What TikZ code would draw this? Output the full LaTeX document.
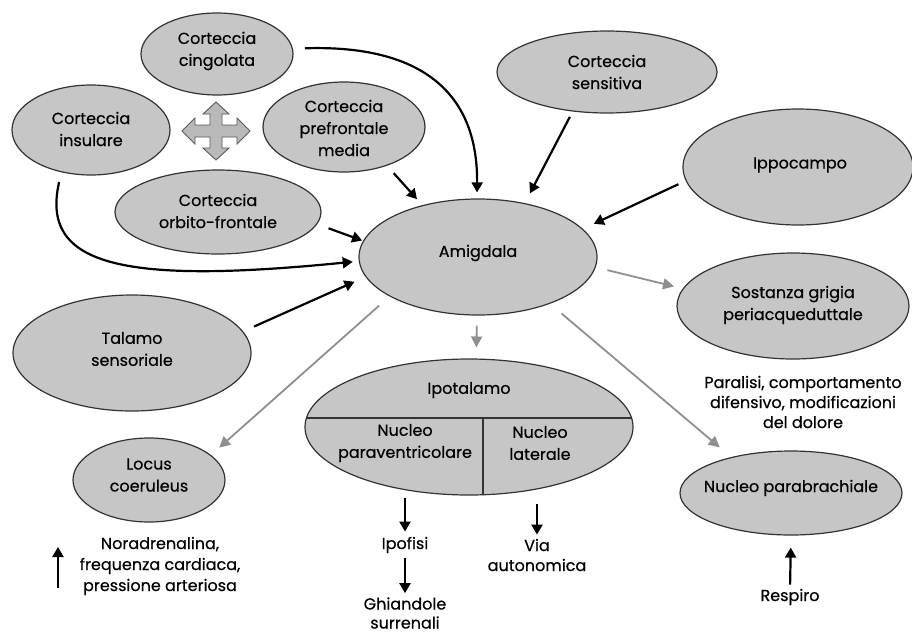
\documentclass[tikz,border=0pt]{standalone}
\usepackage{fontspec}
\setmainfont{Poppins}[FakeBold=0.5]
\usetikzlibrary{shapes.geometric,arrows.meta}
\definecolor{ellfill}{HTML}{C6C6C6}
\definecolor{elldraw}{HTML}{333333}
\definecolor{garrow}{HTML}{8F8F8F}
\definecolor{crossfill}{HTML}{B9B9B9}
\definecolor{crossdraw}{HTML}{5A5A5A}
\begin{document}
\begin{tikzpicture}[x=1pt,y=-1pt,
  ell/.style={ellipse,draw=elldraw,line width=1.2pt,fill=ellfill,inner sep=0pt},
  lbl/.style={align=center,font=\fontsize{16}{22}\selectfont,inner sep=0pt,text=black},
  barr/.style={line width=2.2pt,black,-{Triangle[length=10pt,width=11pt]}},
  garr/.style={line width=1.8pt,garrow,-{Triangle[length=11pt,width=11pt]}}]
\useasboundingbox (0,0) rectangle (912,635);
\fill[white] (0,0) rectangle (912,635);

% ellipses
\node[ell,minimum width=152pt,minimum height=82pt] (cing) at (217,54) {};
\node[ell,minimum width=158pt,minimum height=90pt] (insu) at (91,130) {};
\node[ell,minimum width=162pt,minimum height=90pt] (pref) at (344,127) {};
\node[ell,minimum width=206pt,minimum height=84pt] (orbi) at (218,212) {};
\node[ell,minimum width=220pt,minimum height=82pt] (sens) at (607,72) {};
\node[ell,minimum width=230pt,minimum height=116pt] (ippo) at (798,167) {};
\node[ell,minimum width=238pt,minimum height=116pt] (amig) at (478,257) {};
\node[ell,minimum width=232pt,minimum height=106pt] (sost) at (793,306) {};
\node[ell,minimum width=238pt,minimum height=116pt] (tala) at (132,353) {};
\node[ell,minimum width=152pt,minimum height=84pt] (locu) at (149,480) {};
\node[ell,minimum width=222pt,minimum height=84pt] (para) at (791,493) {};
\node[ell,minimum width=328pt,minimum height=136pt] (ipot) at (469,427) {};
\begin{scope}
  \clip (469,427) ellipse [x radius=164pt, y radius=68pt];
  \draw[elldraw,line width=1.2pt] (300,418) -- (640,418);
  \draw[elldraw,line width=1.2pt] (483,418) -- (483,500);
\end{scope}

% labels
\node[lbl] (cingt) at (217,51) {Corteccia\\cingolata};
\node[lbl] (insut) at (91,129) {Corteccia\\insulare};
\node[lbl] (preft) at (344,128) {Corteccia\\prefrontale\\media};
\node[lbl] (orbit) at (218,211) {Corteccia\\orbito-frontale};
\node[lbl] (senst) at (607,72) {Corteccia\\sensitiva};
\node[lbl] (ippot) at (800,165) {Ippocampo};
\node[lbl] (amigt) at (478,253) {Amigdala};
\node[lbl] (sostt) at (793,305) {Sostanza grigia\\periacqueduttale};
\node[lbl,font=\fontsize{16}{20}\selectfont] (paral) at (803,402) {Paralisi, comportamento\\difensivo, modificazioni\\del dolore};
\node[lbl] (talat) at (132,349) {Talamo\\sensoriale};
\node[lbl] (locut) at (149,475) {Locus\\coeruleus};
\node[lbl] (parat) at (791,488) {Nucleo parabrachiale};
\node[lbl] (ipott) at (469,390) {Ipotalamo};
\node[lbl] (pvn) at (405,443) {Nucleo\\paraventricolare};
\node[lbl] (lat) at (540,443) {Nucleo\\laterale};
\node[lbl] (ipof) at (405,545) {Ipofisi};
\node[lbl,font=\fontsize{16}{19}\selectfont] (ghia) at (405,613) {Ghiandole\\surrenali};
\node[lbl,font=\fontsize{16}{20}\selectfont] (viaa) at (537,555) {Via\\autonomica};
\node[lbl,font=\fontsize{16}{21}\selectfont] (nora) at (160,566) {Noradrenalina,\\frequenza cardiaca,\\pressione arteriosa};
\node[lbl] (resp) at (790,597) {Respiro};

% gray four-way arrow
\filldraw[fill=crossfill,draw=crossdraw,line width=0.9pt,line join=miter]
  (216,102) -- (229,114) -- (222,114) -- (222,125) -- (237,125) -- (237,118) -- (250,131)
  -- (237,144) -- (237,137) -- (222,137) -- (222,148) -- (229,148) -- (216,160)
  -- (203,148) -- (210,148) -- (210,137) -- (195,137) -- (195,144) -- (182,131)
  -- (195,118) -- (195,125) -- (210,125) -- (210,114) -- (203,114) -- cycle;

% black input arrows
\draw[barr,shorten <=12pt,shorten >=6pt] (cing.4) .. controls (405,45) and (478,80) .. (amig.91);
\draw[barr,shorten <=6pt,shorten >=11pt] (sens.229) -- (amig.49);
\draw[barr,shorten <=8pt,shorten >=12pt] (ippo.187) -- (amig.15.5);
\draw[barr,shorten <=10pt,shorten >=8pt] (pref.-42.6) -- (amig.137);
\draw[barr,shorten <=12pt,shorten >=1pt] (orbi.-7.8) -- (amig.172.6);
\draw[barr,shorten <=10pt,shorten >=6pt] (insu.235.8) .. controls (40,265) and (120,285) .. (amig.182.7);
\draw[barr,shorten <=12pt,shorten >=12pt] (tala.11.7) -- (amig.190.6);

% gray output arrows
\draw[garr,shorten <=14pt,shorten >=11pt] (amig.204.2) -- (locu.22.9);
\draw[garr,shorten <=10pt,shorten >=11pt] (amig.269) -- (ipot.84);
\draw[garr,shorten <=12pt,shorten >=9pt] (amig.-5.8) -- (sost.171.9);
\draw[garr,shorten <=15pt,shorten >=15pt] (amig.-33.2) -- (para.149.8);

% short black arrows
\draw[barr,shorten <=2pt,shorten >=5pt] (ipof |- ipot.south) -- (ipof.north);
\draw[barr,shorten <=5pt,shorten >=4pt] (ipof.south) -- (ghia.north);
\draw[barr,shorten <=8pt,shorten >=4pt] (viaa |- ipot.south) -- (viaa.north);
\draw[barr,shorten <=4pt,shorten >=12pt] (resp.north) -- (para.south);
\coordinate (upa) at (58,588);
\coordinate (upb) at (58,547);
\draw[barr] (upa) -- (upb);
\end{tikzpicture}
\end{document}
